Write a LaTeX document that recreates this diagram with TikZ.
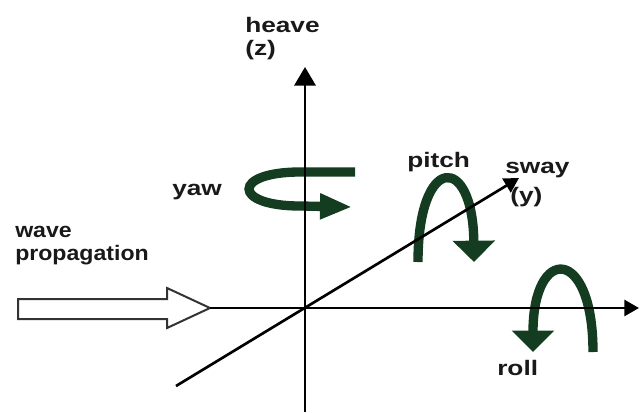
\documentclass[tikz,border=0pt]{standalone}
\usepackage{fontspec}
\usetikzlibrary{arrows.meta}
\newfontfamily\lblfont[FakeStretch=1.25]{Liberation Sans Bold}
\newfontfamily\wavefont[FakeStretch=1.1]{Liberation Sans Bold}
\definecolor{rotgreen}{RGB}{20,60,32}

\tikzset{
  axis/.style={line width=2pt, -{Triangle[width=12pt,length=11pt]}},
  rot/.style={rotgreen, line width=7pt},
  lbl/.style={font=\lblfont\fontsize{15.75}{18}\selectfont, text=black!90, inner sep=0pt, anchor=base west},
}

\begin{document}
\begin{tikzpicture}[x=0.75pt,y=-0.75pt]
\useasboundingbox (0,0) rectangle (640,412);
% rotation arrows
\draw[rot, -{Triangle[width=18pt,length=24pt]}] (355,172) -- (300,172) .. controls (232,172) and (232,206) .. (300,206) -- (352,207);
\draw[rot, -{Triangle[width=31pt,length=16pt]}] (418,262) .. controls (418,153) and (473,153) .. (474,262);
\draw[rot, -{Triangle[width=31pt,length=16pt]}] (593,352) .. controls (593,245) and (533,245) .. (533,352);

% labels
\node[lbl] (heave) at (245,32) {heave};
\node[lbl] (heavez) at (245,55) {(z)};
\node[lbl] (yaw) at (172,195) {yaw};
\node[lbl] (pitch) at (407,167) {pitch};
\node[lbl] (sway) at (505,173) {sway};
\node[lbl] (swayy) at (510,202) {(y)};
\node[lbl] (roll) at (497,375) {roll};
\node[lbl, font=\wavefont\fontsize{15.75}{18}\selectfont] (wave) at (15,237) {wave};
\node[lbl, font=\wavefont\fontsize{15.75}{18}\selectfont] (prop) at (15,260) {propagation};

% wave arrow
\coordinate (wtip) at (210,308);
\draw[line width=1.5pt, draw=black!80, fill=white] (18,299) -- (167,299) -- (167,288) -- (wtip) -- (167,328) -- (167,319) -- (18,319) -- cycle;

% axes
\coordinate (O) at (305,308);
\coordinate (zbot) at (305,412);
\coordinate (zend) at (305,67);
\coordinate (xend) at (639,308);
\coordinate (ybot) at (176,386);
\coordinate (yend) at (519,178);
\draw[axis, -{Triangle[width=16pt,length=14pt]}] (zbot) -- (zend);
\draw[axis] (wtip) -- (xend);
\draw[axis] (ybot) -- (yend);
\end{tikzpicture}
\end{document}
